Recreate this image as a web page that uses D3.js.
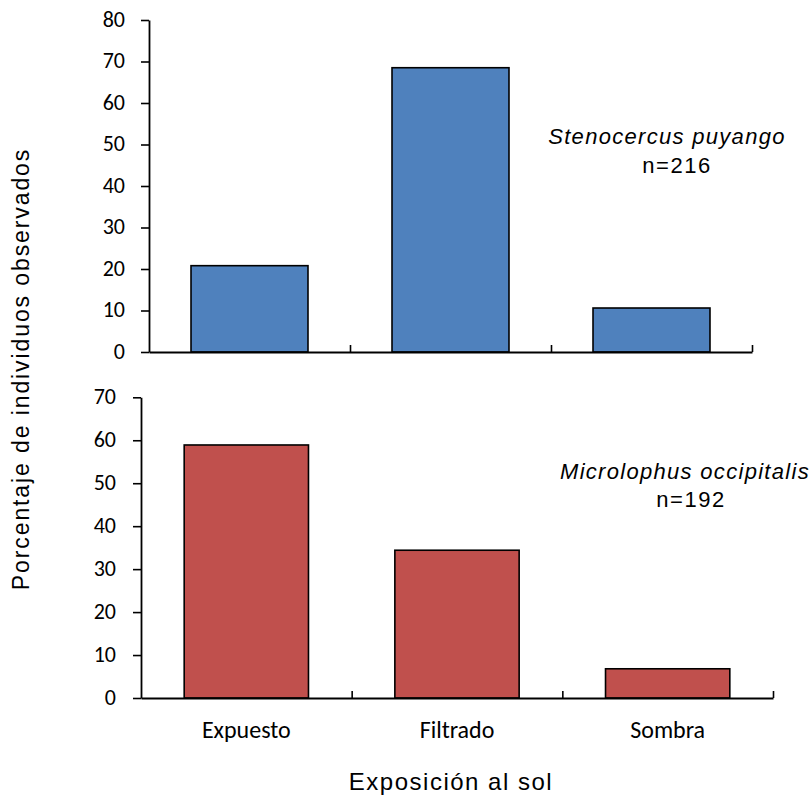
<!DOCTYPE html>
<html>
<head>
<meta charset="utf-8">
<script src="https://cdn.jsdelivr.net/npm/d3@7"></script>
<style>
  html, body { margin: 0; padding: 0; background: #fff; }
  svg { display: block; }
</style>
</head>
<body>
<svg id="chart" width="812" height="798"></svg>
<script>
const categories = ["Expuesto", "Filtrado", "Sombra"];
const stenocercusValues = [20.8, 68.5, 10.6];
const microlophusValues = [58.9, 34.4, 6.8];
const topTicks = [0, 10, 20, 30, 40, 50, 60, 70, 80];
const bottomTicks = [0, 10, 20, 30, 40, 50, 60, 70];
const speciesTop = "Stenocercus puyango";
const nTop = "n=216";
const speciesBottom = "Microlophus occipitalis";
const nBottom = "n=192";
const xTitle = "Exposición al sol";
const yTitle = "Porcentaje de individuos observados";

const svg = d3.select("#chart");
const helv = "'Liberation Sans', Arial, Helvetica, sans-serif";
const calib = "Carlito, Lato, Calibri, sans-serif";

function panel(cfg) {
  const g = svg.append("g");
  const y = d3.scaleLinear().domain(cfg.domain).range([cfg.y0, cfg.y1]);
  const x = d3.scaleBand().domain(categories).range([cfg.x0, cfg.x1])
    .paddingInner(cfg.pad).paddingOuter(cfg.pad / 2);
  const xb = d3.scaleLinear().domain([0, categories.length]).range([cfg.x0, cfg.x1]);

  // bars
  g.selectAll("rect.bar").data(cfg.values).join("rect")
    .attr("class", "bar")
    .attr("x", (d, i) => x(categories[i]))
    .attr("width", x.bandwidth())
    .attr("y", d => y(d))
    .attr("height", d => y(0) - y(d))
    .attr("fill", cfg.color)
    .attr("stroke", "#000")
    .attr("stroke-width", 1.6);

  // y axis
  const ya = g.append("g").attr("transform", `translate(${cfg.x0},0)`)
    .call(d3.axisLeft(y).tickValues(cfg.ticks).tickSize(8).tickSizeOuter(0).tickPadding(cfg.tickPad));
  ya.select(".domain").attr("stroke", "#000").attr("stroke-width", 1.8);
  ya.selectAll(".tick line").attr("stroke", "#000").attr("stroke-width", 1.6);
  ya.selectAll(".tick text").attr("font-family", calib).attr("font-size", 22)
    .attr("fill", "#000").attr("dy", "0.28em");

  // x axis
  const xa = g.append("g").attr("transform", `translate(0,${cfg.y0})`)
    .call(d3.axisBottom(xb).tickValues([1, 2, 3]).tickSize(-7).tickSizeOuter(0).tickFormat(""));
  xa.select(".domain").attr("stroke", "#000").attr("stroke-width", 1.8);
  xa.selectAll(".tick line").attr("stroke", "#000").attr("stroke-width", 1.6);

  // species label
  g.append("text").attr("x", cfg.lx).attr("y", cfg.ly)
    .attr("text-anchor", "middle").attr("font-family", helv)
    .attr("font-style", "italic").attr("font-size", 22)
    .attr("letter-spacing", "1.3px").attr("fill", "#000")
    .text(cfg.species);
  g.append("text").attr("x", cfg.nx).attr("y", cfg.ny)
    .attr("text-anchor", "middle").attr("font-family", helv)
    .attr("font-size", 22).attr("letter-spacing", "1.5px").attr("fill", "#000")
    .text(cfg.n);
  return x;
}

panel({
  values: stenocercusValues, domain: [0, 80], ticks: topTicks,
  x0: 149, x1: 752, y0: 352, y1: 20, pad: 0.418, tickPad: 16,
  color: "#4F81BD", species: speciesTop, n: nTop,
  lx: 667, ly: 144, nx: 677, ny: 173
});

const xBottom = panel({
  values: microlophusValues, domain: [0, 70], ticks: bottomTicks,
  x0: 141, x1: 773, y0: 698, y1: 397.3, pad: 0.41, tickPad: 17,
  color: "#C0504D", species: speciesBottom, n: nBottom,
  lx: 685, ly: 479, nx: 691, ny: 507
});

// category labels
svg.append("g").selectAll("text").data(categories).join("text")
  .attr("x", d => xBottom(d) + xBottom.bandwidth() / 2)
  .attr("y", 738)
  .attr("text-anchor", "middle")
  .attr("font-family", calib).attr("font-size", 24)
  .attr("fill", "#000")
  .text(d => d);

// axis titles
svg.append("text").attr("x", 451).attr("y", 790)
  .attr("text-anchor", "middle").attr("font-family", helv)
  .attr("font-size", 24).attr("letter-spacing", "1.5px").attr("fill", "#000")
  .text(xTitle);

svg.append("text").attr("transform", "translate(29,369) rotate(-90)")
  .attr("text-anchor", "middle").attr("font-family", helv)
  .attr("font-size", 23).attr("letter-spacing", "1.9px").attr("fill", "#000")
  .text(yTitle);
</script>
</body>
</html>
